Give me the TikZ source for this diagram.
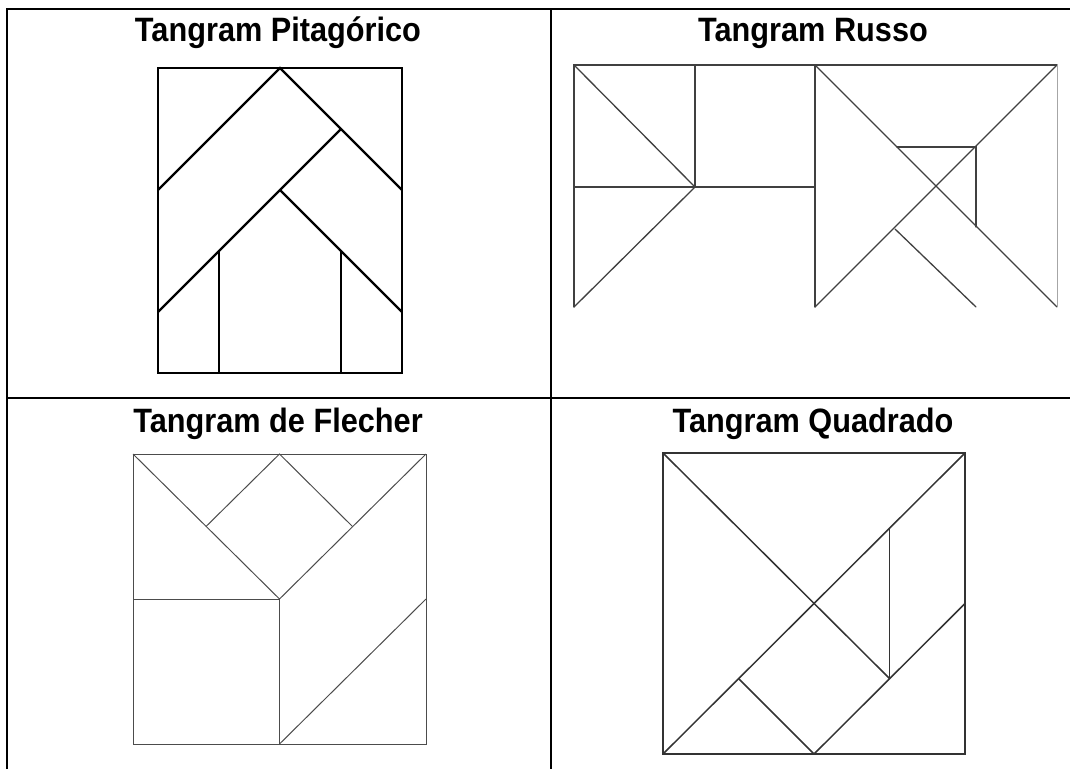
\documentclass[tikz,border=0pt]{standalone}
\usepackage{fontspec}
\setmainfont{Liberation Sans}
\newcommand{\tallttl}[1]{\scalebox{1}[1.1]{#1}}
\begin{document}
\begin{tikzpicture}[x=1pt,y=-1pt,
  tablerule/.style={line width=2pt,black},
  title/.style={font=\bfseries\fontsize{30.7}{36}\selectfont,anchor=base,inner sep=0pt},
  pyth/.style={line width=2.2pt,black,line join=miter},
  russ/.style={line width=1.3pt,black!75,line cap=round},
  flech/.style={line width=1pt,black!70},
  quad/.style={line width=1.5pt,black!80}]
\useasboundingbox (0,0) rectangle (1070,769);
% table
\draw[tablerule] (6.5,769) -- (6.5,9) -- (1070,9);
\draw[tablerule] (551,9) -- (551,769);
\draw[tablerule] (6.5,398) -- (1070,398);
% titles
\node[title] (t1) at (278,41) {\tallttl{Tangram Pitagórico}};
\node[title] (t2) at (813,41) {\tallttl{Tangram Russo}};
\node[title] (t3) at (278,432) {\tallttl{Tangram de Flecher}};
\node[title] (t4) at (813,432) {\tallttl{Tangram Quadrado}};
% Pitagorico
\draw[pyth] (158,68) rectangle (402,373);
\draw[pyth] (158,190) -- (280,68) -- (402,190);
\draw[pyth] (341,129) -- (158,312);
\draw[pyth] (280,190) -- (402,312);
\draw[pyth] (219,251) -- (219,373);
\draw[pyth] (341,251) -- (341,373);
% Russo
\draw[russ] (574,307) -- (574,65) -- (1057,65);
\draw[russ] (695,65) -- (695,187);
\draw[russ] (574,187) -- (815,187);
\draw[russ] (574,65) -- (695,187) -- (574,307);
\draw[russ] (815,65) -- (815,307);
\draw[russ] (815,65) -- (1057,307);
\draw[russ] (815,307) -- (1057,65);
\draw[russ] (897,147) -- (976,147) -- (976,227);
\draw[russ] (895,229) -- (976,307);
\draw[line width=0.6pt,black!35] (1057,65) -- (1057,307);
% Flecher
\draw[flech] (133,454) rectangle (426,744);
\draw[flech] (133,454) -- (279.5,599) -- (426,454);
\draw[flech] (206,526.5) -- (279.5,454) -- (352.5,526.5);
\draw[flech] (133,599) -- (279.5,599) -- (279.5,744);
\draw[flech] (279.5,744) -- (426,599);
% Quadrado
\draw[quad] (663,453) rectangle (965,754);
\draw[quad] (663,453) -- (889.5,678.5);
\draw[quad] (663,754) -- (965,453);
\draw[quad] (889.5,527.5) -- (889.5,678.5);
\draw[quad] (814,754) -- (965,603.5);
\draw[quad] (738.5,678.5) -- (814,754);
\end{tikzpicture}
\end{document}
